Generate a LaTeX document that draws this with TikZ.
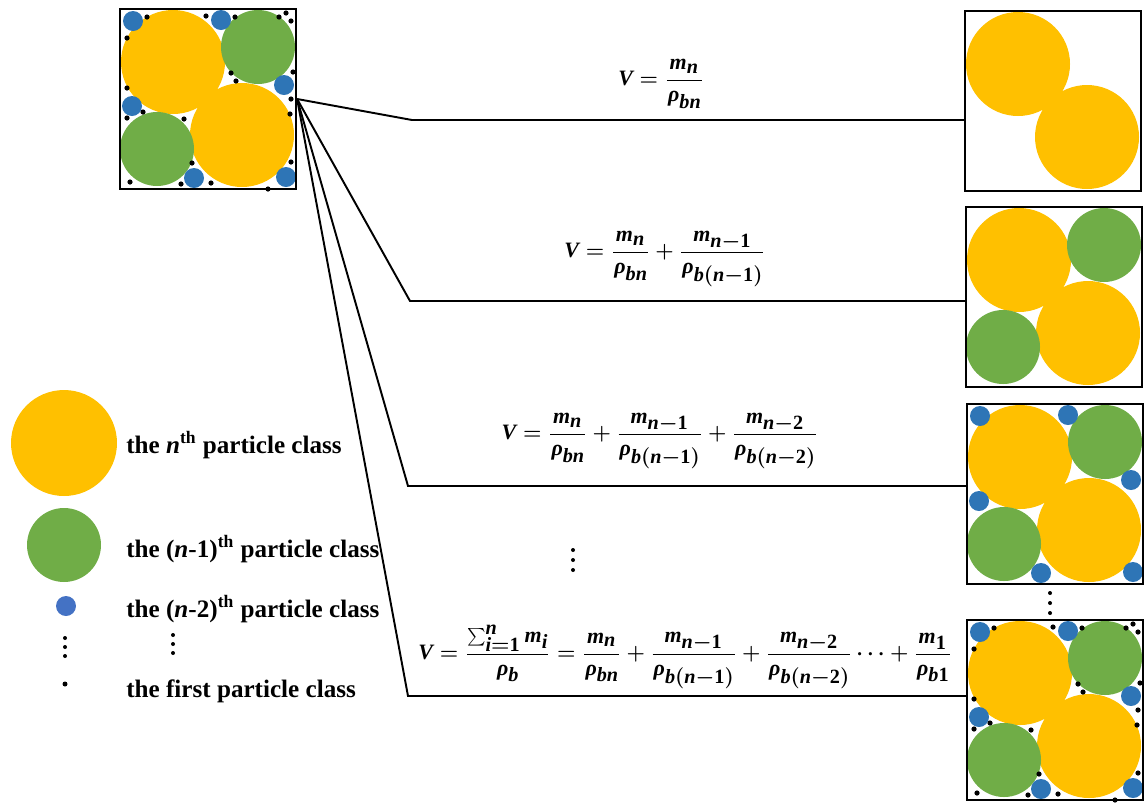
\documentclass[tikz,border=0pt]{standalone}
\usepackage{mathspec}
\setmainfont{Liberation Serif}
\setmathsfont(Digits,Latin,Greek)[UprightFont={Liberation Serif Bold},
  ItalicFont={Liberation Serif Bold Italic}]{Liberation Serif}
\DeclareMathSizes{12.5}{12.5}{11.5}{10}
\usetikzlibrary{positioning}
\definecolor{gold}{HTML}{FFC000}
\definecolor{leaf}{HTML}{70AD47}
\definecolor{sea}{HTML}{2E75B6}
\definecolor{legblue}{HTML}{4472C4}

% one packed cell: #1 centre, #2 number of particle classes shown
\newcommand{\packing}[2]{%
  \begin{scope}[shift={#1}]
    \fill[gold] (-35,-37) circle (52) (34,36) circle (52);
    \ifnum#2>1 \fill[leaf] (50,-52) circle (37) (-51,50) circle (37);\fi
    \ifnum#2>2
      \foreach \x/\y in {-75/-78, 13/-79, 76/-14, -76/7, -14/79, 78/78}
        \fill[sea] (\x,\y) circle (10);
    \fi
    \ifnum#2>3
      \foreach \x/\y in {-61/-82, -2/-83, 27/-82, 71/-82, 78/-86, 83/-78,
          -81/-61, 23/-26, 28/-18, 85/-27, -81/-11, 83/0, -65/13, -81/19,
          -24/20, 82/15, -16/64, 83/63, -78/83, -27/85, 3/84, 60/90}
        \fill (\x,\y) circle (2.6);
    \fi
  \end{scope}}

% three stacked dots below a point
\newcommand{\vdotsat}[2]{%
  \foreach \k in {0,1,2} \fill ($#1+(0,#2*\k)$) circle (2);}

\usetikzlibrary{calc}

\begin{document}
\begin{tikzpicture}[
  x=0.02cm, y=-0.02cm,
  pbox/.style={draw, line width=1.3pt, minimum width=3.52cm,
               minimum height=3.6cm, inner sep=0pt},
  link/.style={line width=1.1pt},
  eqn/.style={inner sep=0pt, font=\fontsize{12.5}{15}\selectfont\boldmath},
  legend/.style={anchor=base west, inner sep=0pt,
                 font=\fontsize{14.3}{17}\selectfont\bfseries},
  dot/.style={circle, inner sep=0pt, draw=none}
]
\useasboundingbox (0,0) rectangle (1148,802);

% mixture and the cells built up class by class
\packing{(208,99)}{4}
\node[pbox] (mix) at (208,99) {};
\packing{(1053,101)}{1}
\node[pbox] (b1) at (1053,101) {};
\packing{(1054,297)}{2}
\node[pbox] (b2) at (1054,297) {};
\packing{(1055,494)}{3}
\node[pbox] (b3) at (1055,494) {};
\packing{(1055,710)}{4}
\node[pbox] (b4) at (1055,710) {};

\coordinate (k1) at (412,120);
\coordinate (k2) at (410,301);
\coordinate (k3) at (408,486);
\coordinate (k4) at (408,696);
\draw[link] (mix.east) -- (k1) -- (k1 -| b1.west);
\draw[link] (mix.east) -- (k2) -- (k2 -| b2.west);
\draw[link] (mix.east) -- (k3) -- (k3 -| b3.west);
\draw[link] (mix.east) -- (k4) -- (k4 -| b4.west);

\node[eqn] (f1) at (661,84) {$\displaystyle V=\frac{m_n}{\rho_{bn}}$};
\node[eqn] (f2) at (665,259) {$\displaystyle V=\frac{m_n}{\rho_{bn}}+\frac{m_{n-1}}{\rho_{b(n-1)}}$};
\node[eqn] (f3) at (660,441) {$\displaystyle V=\frac{m_n}{\rho_{bn}}+\frac{m_{n-1}}{\rho_{b(n-1)}}+\frac{m_{n-2}}{\rho_{b(n-2)}}$};
\node[eqn] (f4) at (685,657) {$\displaystyle V=\frac{\sum_{i=1}^{n}m_i}{\rho_b}=\frac{m_n}{\rho_{bn}}+\frac{m_{n-1}}{\rho_{b(n-1)}}+\frac{m_{n-2}}{\rho_{b(n-2)}}\cdots+\frac{m_1}{\rho_{b1}}$};
\coordinate (vd1) at (573,550);
\coordinate (vd2) at (1050,593);
\vdotsat{(vd1)}{10}
\vdotsat{(vd2)}{10}

% legend
\node[dot, fill=gold, minimum size=2.12cm] (lgn) at (64,443) {};
\node[dot, fill=leaf, minimum size=1.48cm] (lgn1) at (64,545) {};
\node[dot, fill=legblue, minimum size=0.4cm] (lgn2) at (66,606) {};
\coordinate (lgvd) at (65,638);
\vdotsat{(lgvd)}{9}
\node[dot, fill=black, minimum size=0.1cm] (lg1) at (65,684) {};
\node[legend] (tn) at (126,453) {the \textit{n}\textsuperscript{th} particle class};
\node[legend] (tn1) at (126,557) {the (\textit{n}-1)\textsuperscript{th} particle class};
\node[legend] (tn2) at (126,617) {the (\textit{n}-2)\textsuperscript{th} particle class};
\coordinate (tvd) at (173,635);
\vdotsat{(tvd)}{9}
\node[legend] (t1) at (126,697) {the first particle class};
\end{tikzpicture}
\end{document}
